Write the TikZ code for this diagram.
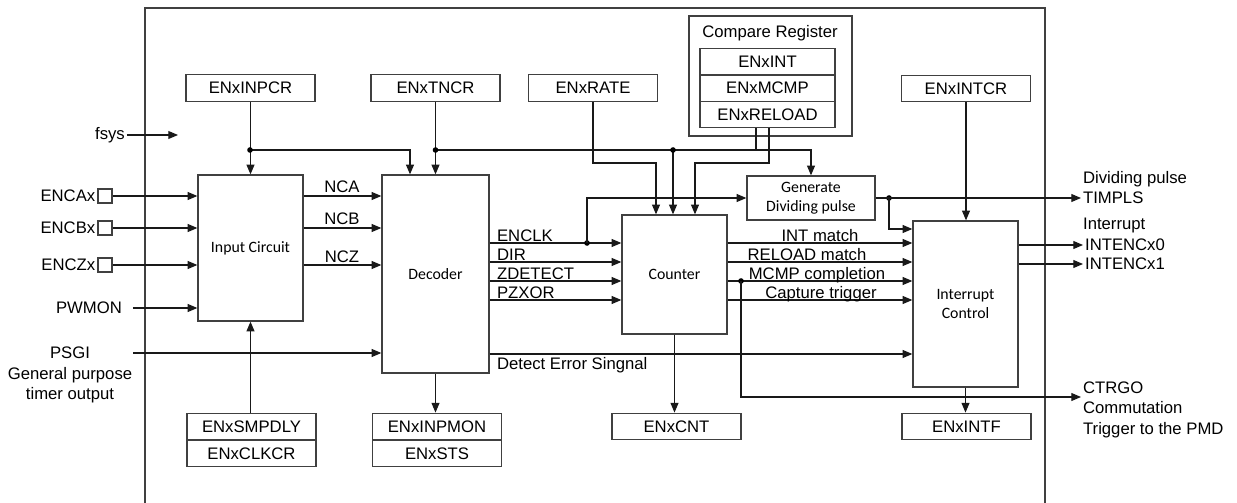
\documentclass[tikz,border=0pt]{standalone}
\usepackage{fontspec}
\setmainfont{Liberation Sans}
\newfontfamily\blockfont{Carlito}
\usetikzlibrary{arrows.meta}

\begin{document}
\begin{tikzpicture}[x=0.02cm, y=-0.02cm,
    font=\fontsize{9.5}{11.5}\selectfont,
    box/.style={draw=black!75, line width=0.75pt, inner sep=0pt},
    reg/.style={box, minimum width=2.58cm, minimum height=0.53cm},
    blk/.style={box, font=\blockfont\fontsize{9}{11}\selectfont, align=center},
    pin/.style={draw=black!75, line width=0.75pt, minimum size=0.28cm, inner sep=0pt},
    lbl/.style={inner sep=1pt},
    sig/.style={draw=black!90, line width=0.6pt, -{Triangle[length=5.5pt,width=4.5pt]}},
    wire/.style={draw=black!90, line width=0.6pt}]
                \useasboundingbox (0,0) rectangle (1237,503);

                % Frame
                \draw[line width=0.75pt, black!75] (145,503) -- (145,8) -- (1045,8) -- (1045,503);

                % Registers
                \node[reg] (inpcr) at (250.5,88) {ENxINPCR};
                \node[reg] (tncr) at (435.5,88) {ENxTNCR};
                \node[reg] (rate) at (593,88) {ENxRATE};
                \node[reg] (intcr) at (966,88.5) {ENxINTCR};
                \node[box, minimum width=3.26cm, minimum height=2.4cm] (cmpreg) at (770.5,76) {};
                \node (cmptitle) at (770,33) {Compare Register};
                \node[reg, minimum width=2.7cm] (regint) at (767.5,62) {ENxINT};
                \node[reg, minimum width=2.7cm] (regmcmp) at (767.5,88) {ENxMCMP};
                \node[reg, minimum width=2.7cm] (regreload) at (767.5,114.5) {ENxRELOAD};
                \node[reg] (smpdly) at (251.5,426.5) {ENxSMPDLY};
                \node[reg] (clkcr) at (251.5,453.5) {ENxCLKCR};
                \node[reg] (inpmon) at (437,426.5) {ENxINPMON};
                \node[reg] (sts) at (437,453.5) {ENxSTS};
                \node[reg] (cnt) at (676.5,426.5) {ENxCNT};
                \node[reg] (intf) at (966.5,426.5) {ENxINTF};

                % Blocks
                \node[blk, minimum width=2.1cm, minimum height=2.92cm] (incirc) at (250.5,248) {Input Circuit};
                \node[blk, minimum width=2.14cm, minimum height=3.96cm] (decoder) at (435.5,274) {Decoder};
                \node[blk, minimum width=2.1cm, minimum height=2.38cm] (counter) at (674.5,274.5) {Counter};
                \node[blk, minimum width=2.56cm, minimum height=0.88cm] (gendiv) at (811,198) {Generate\\Dividing pulse};
                \node[blk, minimum width=2.1cm, minimum height=3.32cm] (intctl) at (965.5,304) {Interrupt\\Control};

                % Inputs
                \node[lbl] (fsys) at (110,135) {fsys};
                \coordinate (fsysend) at (178,135);
                \draw[sig] (fsys.east) -- (fsysend);
                \foreach \n/\y/\t in {a/196/ENCAx, b/228/ENCBx, c/265/ENCZx} {
                    \node[pin] (pin\n) at (105,\y) {};
                    \node[lbl, anchor=east] (pinlbl\n) at (pin\n.west) {\t};
                    \draw[sig] (pin\n.east) -- (incirc.west |- pin\n);
                }
                \node[lbl] (pwmon) at (89,308) {PWMON};
                \draw[sig] ([xshift=5pt]pwmon.east) -- (incirc.west |- pwmon);
                \node[lbl, align=center] (psgi) at (70,375) {PSGI\\General purpose\\timer output};
                \coordinate (psgiout) at (133,353);
                \draw[sig] (psgiout) -- (decoder.west |- psgiout);

                % Control buses
                \coordinate (j1) at (250,150);
                \coordinate (j2) at (435.5,150);
                \coordinate (j3) at (673,150);
                \draw[sig] (inpcr) -- (incirc);
                \draw[sig] (j1) -| (410,0 |- decoder.north);
                \draw[sig] (tncr) -- (decoder);
                \draw[sig] (j2) -| (gendiv.north);
                \draw[sig] (j3) -- (j3 |- counter.north);
                \draw[wire] (regreload.south -| 756,0) -- (756,150);
                \draw[sig] (regreload.south -| 769,0) |- (695,163) -- (695,0 |- counter.north);
                \draw[sig] (rate.south) |- (656,163) -- (656,0 |- counter.north);
                \draw[sig] (intcr) -- (intcr |- intctl.north);
                \foreach \c in {j1,j2,j3} \fill (\c) circle (1.6pt);

                % Input circuit to decoder
                \foreach \y/\t in {196/NCA, 228/NCB, 265/NCZ} {
                    \draw[sig] (incirc.east |- 0,\y) -- (decoder.west |- 0,\y);
                    \node[lbl, anchor=base] (n\t) at (342,\y-3) {\t};
                }

                % Decoder to counter
                \foreach \y/\t in {243/ENCLK, 262/DIR, 281/ZDETECT, 300/PZXOR} {
                    \draw[sig] (decoder.east |- 0,\y) -- (counter.west |- 0,\y);
                    \node[lbl, anchor=base west] (d\t) at (495,\y-2) {\t};
                }
                \coordinate (dclk) at (587,243);
                \fill (dclk) circle (1.6pt);
                \draw[sig] (dclk) |- (gendiv.west);

                % Counter to interrupt control
                \foreach \y/\cx/\t in {243/820/INT match, 262/807/RELOAD match, 281/817/MCMP completion, 300/821/Capture trigger} {
                    \draw[sig] (counter.east |- 0,\y) -- (intctl.west |- 0,\y);
                    \node[lbl, anchor=base] (c\y) at (\cx,\y-2) {\t};
                }
                \draw[sig] (decoder.east |- 0,354) -- (intctl.west |- 0,354);
                \node[lbl, anchor=north west] (deterr) at (495,355) {Detect Error Singnal};

                % Outputs
                \node[lbl, anchor=west] (divp) at (1081,179) {Dividing pulse};
                \node[lbl, anchor=west] (timpls) at (1081,198) {TIMPLS};
                \node[lbl, anchor=west] (intr) at (1081,225) {Interrupt};
                \node[lbl, anchor=west] (int0) at (1083,245) {INTENCx0};
                \node[lbl, anchor=west] (int1) at (1083,264) {INTENCx1};
                \node[lbl, anchor=north west, align=left] (ctrgo) at (1081,380) {CTRGO\\Commutation\\Trigger to the PMD};
                \coordinate (dpulse) at (889,198);
                \fill (dpulse) circle (1.6pt);
                \draw[sig] (gendiv.east) -- (timpls.west);
                \draw[sig] (dpulse) |- (intctl.west |- 0,229);
                \draw[sig] (intctl.east |- int0) -- (int0.west);
                \draw[sig] (intctl.east |- int1) -- (int1.west);
                \coordinate (mcmp) at (741,281);
                \fill (mcmp) circle (1.6pt);
                \draw[sig] (mcmp) |- (ctrgo.west |- 0,397);

                % Status registers
                \draw[sig] (incirc.south |- smpdly.north) -- (incirc.south);
                \draw[sig] (decoder.south) -- (decoder.south |- inpmon.north);
                \draw[sig] (counter.south) -- (counter.south |- cnt.north);
                \draw[sig] (intctl.south) -- (intctl.south |- intf.north);
            \end{tikzpicture}
\end{document}
